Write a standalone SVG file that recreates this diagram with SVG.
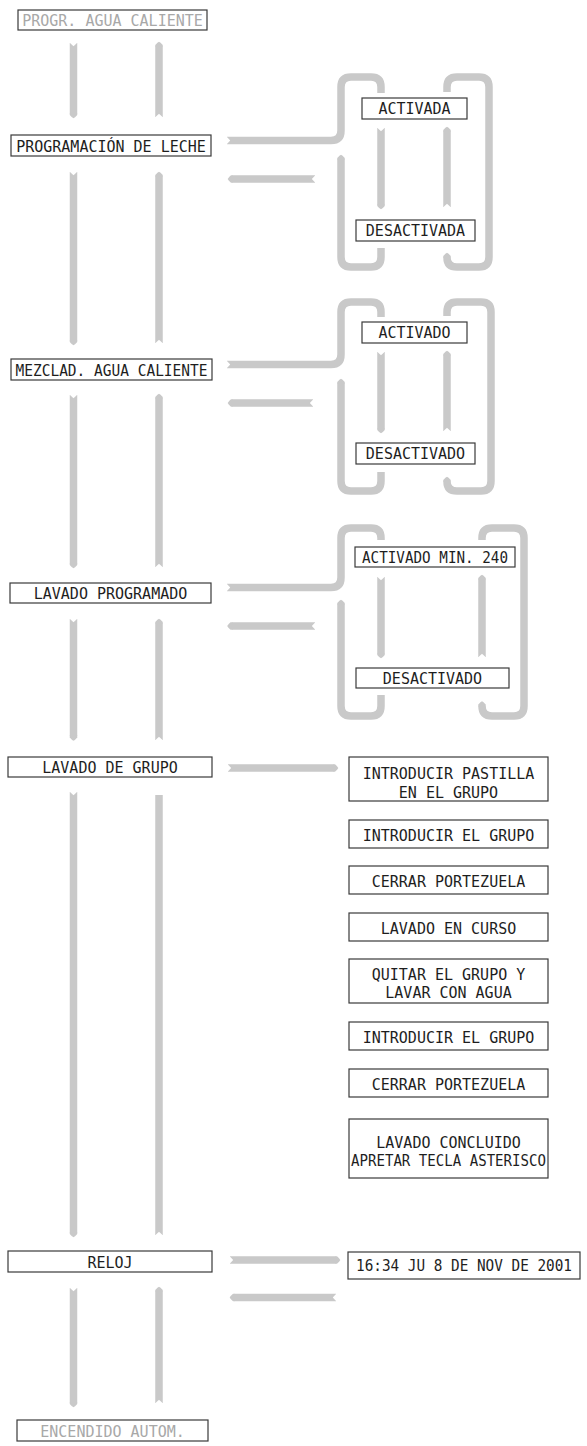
<svg xmlns="http://www.w3.org/2000/svg" width="587" height="1446" viewBox="0 0 587 1446">
<style>
.box{fill:#fff;stroke:#3a3a3a;stroke-width:1.2}
.t{font-family:"DejaVu Sans Mono",monospace;font-size:16px;fill:#1e1e1e;text-anchor:middle}
.s{font-size:15px}
.g{fill:#a8a8a8}
.band{fill:none;stroke:#c9c9c9;stroke-width:7.5;stroke-linejoin:round}
.a{marker-start:url(#nt);marker-end:url(#hd)}
.h{marker-end:url(#hd)}
.n{marker-start:url(#nt)}
</style>
<defs>
<marker id="hd" markerUnits="userSpaceOnUse" orient="auto" refX="0" refY="0" markerWidth="12" markerHeight="12" overflow="visible"><path d="M-0.5,-3.75 L1.5,-3.75 Q4.5,-1.2 4.8,0 Q4.5,1.2 1.5,3.75 L-0.5,3.75 Z" fill="#c9c9c9"/></marker>
<marker id="nt" markerUnits="userSpaceOnUse" orient="auto" refX="0" refY="0" markerWidth="12" markerHeight="12" overflow="visible"><path d="M-1,-4.6 L3.2,0 L-1,4.6 Z" fill="#fff"/></marker>
</defs>
<rect width="587" height="1446" fill="#fff"/>
<g id="connectors">
<path class="band a" d="M73.5,43 V113.5"/>
<path class="band a" d="M159,117 V46.5"/>
<path class="band a" d="M73.5,172 V340.5"/>
<path class="band a" d="M159,343 V176.5"/>
<path class="band a" d="M73.5,395 V563.5"/>
<path class="band a" d="M159,567 V398.5"/>
<path class="band a" d="M73.5,619 V736"/>
<path class="band a" d="M159,740 V623.5"/>
<path class="band a" d="M73.5,792 V1232.5"/>
<path class="band n" d="M159,1235 V795"/>
<path class="band a" d="M73.5,1288 V1402.5"/>
<path class="band a" d="M159,1403 V1291.5"/>
<!-- loop 1 -->
<path class="band n" d="M227,140.5 H331 Q341,140.5 341,130.5 V87 Q341,77 351,77 H371 Q381,77 381,87 V93"/>
<path class="band h" d="M447,92 V87 Q447,77 457,77 H479 Q489,77 489,87 V257 Q489,267 479,267 H457 Q447,267 447,257.5"/>
<path class="band h" d="M381,248 V257 Q381,267 371,267 H351 Q341,267 341,257 V159.5"/>
<path class="band a" d="M381,128 V204.5"/>
<path class="band a" d="M447,207 V131.5"/>
<path class="band a" d="M315,179 H232.5"/>
<!-- loop 2 -->
<path class="band n" d="M227,364.5 H331 Q341,364.5 341,354.5 V312 Q341,302 351,302 H371 Q381,302 381,312 V317"/>
<path class="band h" d="M447,316 V312 Q447,302 457,302 H481 Q491,302 491,312 V481 Q491,491 481,491 H457 Q447,491 447,481.5"/>
<path class="band h" d="M381,472 V481 Q381,491 371,491 H351 Q341,491 341,481 V383.5"/>
<path class="band a" d="M381,352 V428.5"/>
<path class="band a" d="M447,431 V355.5"/>
<path class="band a" d="M313,403 H232.5"/>
<!-- loop 3 -->
<path class="band n" d="M227,587.5 H331 Q341,587.5 341,577.5 V538 Q341,528 351,528 H371 Q381,528 381,538 V540"/>
<path class="band h" d="M482,540 V538 Q482,528 492,528 H514 Q524,528 524,538 V706 Q524,716 514,716 H492 Q482,716 482,706"/>
<path class="band h" d="M381,695 V706 Q381,716 371,716 H351 Q341,716 341,706 V604.5"/>
<path class="band a" d="M381,577 V653.5"/>
<path class="band a" d="M482,657 V579.5"/>
<path class="band a" d="M315,626 H232"/>
<!-- lavado de grupo / reloj -->
<path class="band a" d="M228,768 H333.5"/>
<path class="band a" d="M230,1260 H335.5"/>
<path class="band a" d="M336,1297.5 H234.5"/>
</g>
<g id="n-progr-agua"><rect class="box" x="18" y="10" width="189" height="20"/><text class="t g" x="112.5" y="26" textLength="180.6" lengthAdjust="spacingAndGlyphs">PROGR. AGUA CALIENTE</text></g>
<g id="n-prog-leche"><rect class="box" x="11" y="135" width="200" height="21"/><text class="t" x="111" y="151.5" textLength="189.6" lengthAdjust="spacingAndGlyphs">PROGRAMACIÓN DE LECHE</text></g>
<g id="n-activada"><rect class="box" x="362" y="98" width="105" height="21"/><text class="t" x="414.5" y="114" textLength="72.2" lengthAdjust="spacingAndGlyphs">ACTIVADA</text></g>
<g id="n-desactivada"><rect class="box" x="356" y="220" width="119" height="21"/><text class="t" x="415.5" y="236" textLength="99.3" lengthAdjust="spacingAndGlyphs">DESACTIVADA</text></g>
<g id="n-mezclad"><rect class="box" x="11" y="359" width="201" height="21"/><text class="t" x="111.5" y="375.5" textLength="192" lengthAdjust="spacingAndGlyphs">MEZCLAD. AGUA CALIENTE</text></g>
<g id="n-activado"><rect class="box" x="362" y="322" width="105" height="21"/><text class="t" x="414.5" y="338" textLength="72.2" lengthAdjust="spacingAndGlyphs">ACTIVADO</text></g>
<g id="n-desactivado"><rect class="box" x="356" y="443" width="119" height="21"/><text class="t" x="415.5" y="459" textLength="99.3" lengthAdjust="spacingAndGlyphs">DESACTIVADO</text></g>
<g id="n-lavado-prog"><rect class="box" x="10" y="583" width="201" height="20"/><text class="t" x="110.5" y="599" textLength="153.5" lengthAdjust="spacingAndGlyphs">LAVADO PROGRAMADO</text></g>
<g id="n-activado-min"><rect class="box" x="355" y="547" width="160" height="20"/><text class="t" x="435" y="563" textLength="146" lengthAdjust="spacingAndGlyphs">ACTIVADO MIN. 240</text></g>
<g id="n-desactivado-2"><rect class="box" x="356" y="668" width="153" height="20"/><text class="t" x="432.5" y="684" textLength="99.3" lengthAdjust="spacingAndGlyphs">DESACTIVADO</text></g>
<g id="n-lavado-grupo"><rect class="box" x="8" y="757" width="204" height="20"/><text class="t" x="110" y="773" textLength="135.5" lengthAdjust="spacingAndGlyphs">LAVADO DE GRUPO</text></g>
<g id="n-step1"><rect class="box" x="349" y="757" width="199" height="44"/><text class="t" x="448.5" y="778.5" textLength="171.6" lengthAdjust="spacingAndGlyphs">INTRODUCIR PASTILLA</text><text class="t" x="448.5" y="797.5" textLength="99.3" lengthAdjust="spacingAndGlyphs">EN EL GRUPO</text></g>
<g id="n-step2"><rect class="box" x="349" y="820" width="199" height="28"/><text class="t" x="448.5" y="840.5" textLength="171.6" lengthAdjust="spacingAndGlyphs">INTRODUCIR EL GRUPO</text></g>
<g id="n-step3"><rect class="box" x="349" y="866" width="199" height="28"/><text class="t" x="448.5" y="886.5" textLength="153.5" lengthAdjust="spacingAndGlyphs">CERRAR PORTEZUELA</text></g>
<g id="n-step4"><rect class="box" x="349" y="913" width="199" height="28"/><text class="t" x="448.5" y="933.5" textLength="135.5" lengthAdjust="spacingAndGlyphs">LAVADO EN CURSO</text></g>
<g id="n-step5"><rect class="box" x="349" y="959" width="199" height="44"/><text class="t" x="448.5" y="979.5" textLength="153.5" lengthAdjust="spacingAndGlyphs">QUITAR EL GRUPO Y</text><text class="t" x="448.5" y="997.5" textLength="126.4" lengthAdjust="spacingAndGlyphs">LAVAR CON AGUA</text></g>
<g id="n-step6"><rect class="box" x="349" y="1022" width="199" height="28"/><text class="t" x="448.5" y="1042.5" textLength="171.6" lengthAdjust="spacingAndGlyphs">INTRODUCIR EL GRUPO</text></g>
<g id="n-step7"><rect class="box" x="349" y="1069" width="199" height="28"/><text class="t" x="448.5" y="1089.5" textLength="153.5" lengthAdjust="spacingAndGlyphs">CERRAR PORTEZUELA</text></g>
<g id="n-step8"><rect class="box" x="349" y="1119" width="199" height="59"/><text class="t" x="448.5" y="1147.5" textLength="144.5" lengthAdjust="spacingAndGlyphs">LAVADO CONCLUIDO</text><text class="t s" x="448.5" y="1165.5" textLength="195" lengthAdjust="spacingAndGlyphs">APRETAR TECLA ASTERISCO</text></g>
<g id="n-reloj"><rect class="box" x="8" y="1251" width="204" height="21"/><text class="t" x="110" y="1267.5" textLength="45.2" lengthAdjust="spacingAndGlyphs">RELOJ</text></g>
<g id="n-fecha"><rect class="box" x="348" y="1252" width="232" height="27"/><text class="t s" x="464" y="1271" textLength="216" lengthAdjust="spacingAndGlyphs">16:34 JU 8 DE NOV DE 2001</text></g>
<g id="n-encendido"><rect class="box" x="17" y="1420" width="191" height="21"/><text class="t g" x="112.5" y="1436.5" textLength="144.5" lengthAdjust="spacingAndGlyphs">ENCENDIDO AUTOM.</text></g>
</svg>
